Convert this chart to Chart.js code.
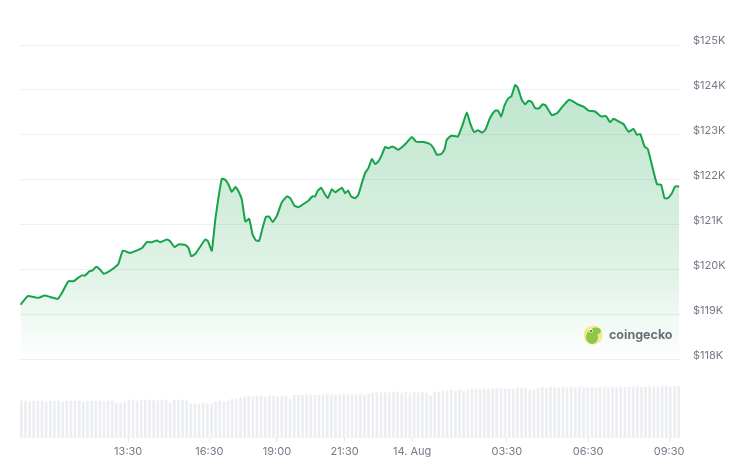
<!DOCTYPE html>
<html>
<head>
<meta charset="utf-8">
<script src="https://cdn.jsdelivr.net/npm/chart.js@4"></script>
<style>
  html, body { margin: 0; padding: 0; background: #fff; }
  #wrap { width: 740px; height: 468px; }
</style>
</head>
<body>
<div id="wrap"><canvas id="myChart"></canvas></div>
<script>
// hours since 00:00, 13 Aug (24 = 14 Aug 00:00)
const times = [9.52, 9.79, 10.00, 10.18, 10.41, 10.62, 10.90, 11.05, 11.29, 11.48,
  11.66, 11.79, 11.91, 12.06, 12.18, 12.31, 12.43, 12.59, 12.71, 12.96,
  13.14, 13.30, 13.57, 13.76, 14.01, 14.19, 14.38, 14.56, 14.68, 14.93,
  15.05, 15.21, 15.36, 15.61, 15.73, 15.83, 15.98, 16.13, 16.35, 16.45,
  16.59, 16.72, 16.96, 17.09, 17.21, 17.33, 17.46, 17.58, 17.70, 17.83,
  17.97, 18.10, 18.22, 18.34, 18.47, 18.59, 18.71, 18.84, 19.00, 19.18,
  19.37, 19.49, 19.65, 19.80, 19.98, 20.17, 20.31, 20.41, 20.51, 20.64,
  20.76, 20.88, 21.03, 21.15, 21.40, 21.52, 21.63, 21.74, 21.89, 22.01,
  22.14, 22.26, 22.38, 22.51, 22.63, 22.75, 22.88, 23.00, 23.12, 23.27,
  23.49, 23.74, 23.99, 24.14, 24.42, 24.67, 24.79, 24.91, 25.07, 25.19,
  25.28, 25.44, 25.59, 25.69, 25.86, 26.02, 26.14, 26.29, 26.43, 26.58,
  26.70, 26.88, 27.07, 27.17, 27.29, 27.41, 27.56, 27.66, 27.81, 27.91,
  28.05, 28.18, 28.30, 28.42, 28.55, 28.69, 28.82, 28.94, 29.16, 29.35,
  29.53, 29.66, 29.80, 29.96, 30.15, 30.33, 30.52, 30.76, 30.99, 31.16,
  31.32, 31.44, 31.63, 31.81, 32.00, 32.18, 32.31, 32.43, 32.59, 32.71,
  32.86, 33.05, 33.20, 33.33, 33.45, 33.60, 33.72, 33.87];

// price in $K
const prices = [119.22, 119.41, 119.39, 119.37, 119.42, 119.39, 119.35, 119.48, 119.74, 119.74,
  119.82, 119.87, 119.87, 119.96, 119.98, 120.06, 120.02, 119.91, 119.93, 120.03,
  120.13, 120.42, 120.37, 120.41, 120.48, 120.61, 120.61, 120.65, 120.61, 120.67,
  120.63, 120.50, 120.56, 120.55, 120.48, 120.30, 120.35, 120.48, 120.67, 120.63,
  120.42, 121.11, 122.02, 122.00, 121.89, 121.73, 121.84, 121.74, 121.56, 121.07,
  121.13, 120.78, 120.65, 120.64, 120.93, 121.17, 121.18, 121.06, 121.20, 121.50,
  121.63, 121.59, 121.42, 121.39, 121.46, 121.54, 121.63, 121.63, 121.76, 121.82,
  121.69, 121.59, 121.79, 121.72, 121.82, 121.70, 121.76, 121.63, 121.59, 121.67,
  121.93, 122.15, 122.26, 122.46, 122.35, 122.41, 122.56, 122.73, 122.70, 122.74,
  122.67, 122.79, 122.95, 122.85, 122.84, 122.79, 122.70, 122.56, 122.57, 122.67,
  122.89, 122.98, 122.97, 122.96, 123.22, 123.50, 123.26, 123.06, 123.10, 123.05,
  123.11, 123.38, 123.54, 123.54, 123.41, 123.65, 123.82, 123.85, 124.11, 124.04,
  123.78, 123.68, 123.76, 123.73, 123.59, 123.59, 123.68, 123.65, 123.44, 123.48,
  123.61, 123.70, 123.78, 123.74, 123.67, 123.63, 123.54, 123.52, 123.41, 123.42,
  123.28, 123.36, 123.30, 123.24, 123.07, 123.13, 123.00, 123.02, 122.74, 122.68,
  122.33, 121.90, 121.89, 121.59, 121.59, 121.70, 121.85, 121.85];

// trading volume (relative), one bar per interval
const volumes = [37,37,36,37,37,37,36,37,37,37,36,37,37,37,37,36,37,37,37,37,36,37,37,
  35,35,36,
  38,38,37,38,38,38,38,37,38,38,
  35,
  38,38,38,37,
  34,34,34,35,34,34,
  36,37,36,37,
  39,39,40,
  41,42,41,42,42,41,42,42,41,42,42,
  39,
  43,43,43,44,43,43,43,43,44,43,43,43,44,43,43,43,44,43,44,
  45,46,45,46,45,46,46,45,46,45,46,45,46,45,
  42,
  46,46,47,
  47,48,47,48,47,48,
  49,49,48,49,49,49,50,49,49,49,49,
  50,50,50,
  48,48,
  50,51,50,51,51,50,51,50,51,50,51,51,50,51,50,51,51,50,51,50,51,51,
  51,51,52,51,51,52,51,51,
  52,52,51,52,52];
const volStart = 9.55, volEnd = 33.85;

const tickHours = [13.5, 16.5, 19, 21.5, 24, 27.5, 30.5, 33.5];
const tickLabels = ['13:30', '16:30', '19:00', '21:30', '14. Aug', '03:30', '06:30', '09:30'];
const priceTicks = [118, 119, 120, 121, 122, 123, 124, 125];

const linePoints = times.map((t, i) => ({ x: t, y: prices[i] }));
const volStep = (volEnd - volStart) / (volumes.length - 1);
const volPoints = volumes.map((v, i) => ({ x: volStart + i * volStep, y: v }));

function areaFill(context) {
    const chart = context.chart;
    const area = chart.chartArea;
    if (!area) return 'rgba(22,163,74,0.15)';
    const yEnd = chart.scales.y.getPixelForValue(118);
    const g = chart.ctx.createLinearGradient(0, area.top, 0, yEnd);
    g.addColorStop(0, 'rgba(22,163,74,0.30)');
    g.addColorStop(0.55, 'rgba(22,163,74,0.18)');
    g.addColorStop(0.75, 'rgba(22,163,74,0.12)');
    g.addColorStop(0.9, 'rgba(22,163,74,0.05)');
    g.addColorStop(1, 'rgba(22,163,74,0)');
    return g;
}

// little coingecko watermark
const geckoMark = {
    id: 'geckoMark',
    afterDatasetsDraw(chart) {
        const c = chart.ctx;
        c.save();
        c.fillStyle = '#f6e88f';
        c.beginPath(); c.arc(593, 335, 9.5, 0, Math.PI * 2); c.fill();
        c.fillStyle = '#8cc84b';
        c.beginPath(); c.ellipse(592, 337, 6, 7, 0, 0, Math.PI * 2); c.fill();
        c.beginPath(); c.ellipse(596, 331, 5, 3.5, 0, 0, Math.PI * 2); c.fill();
        c.fillStyle = '#ffffff';
        c.beginPath(); c.arc(591, 331, 1.8, 0, Math.PI * 2); c.fill();
        c.fillStyle = '#3a3a3a';
        c.beginPath(); c.arc(591, 331, 0.9, 0, Math.PI * 2); c.fill();
        c.fillStyle = '#6a6e75';
        c.font = 'bold 12.5px Inter';
        c.textBaseline = 'middle';
        c.fillText('coingecko', 609, 335);
        c.restore();
    }
};

const config = {
    data: {
        datasets: [{
            type: 'line',
            data: linePoints,
            yAxisID: 'y',
            borderColor: '#16a34a',
            borderWidth: 2,
            pointRadius: 0,
            tension: 0.15,
            borderJoinStyle: 'round',
            fill: 'start',
            backgroundColor: areaFill,
            order: 0
        }, {
            type: 'bar',
            data: volPoints,
            yAxisID: 'yv',
            backgroundColor: '#eceef1',
            barThickness: 2,
            order: 1
        }]
    },
    options: {
        responsive: true,
        maintainAspectRatio: false,
        animation: false,
        devicePixelRatio: 1,
        layout: { padding: { left: 20, top: 45, right: 0, bottom: 0 } },
        plugins: { legend: { display: false }, tooltip: { enabled: false } },
        scales: {
            x: {
                type: 'linear',
                min: 9.5,
                max: 33.9,
                offset: false,
                afterBuildTicks: s => { s.ticks = tickHours.map(v => ({ value: v })); },
                afterFit: s => { s.height = 30; },
                ticks: {
                    autoSkip: false,
                    maxRotation: 0,
                    padding: 3,
                    color: '#737986',
                    font: { family: 'Inter', size: 11 },
                    callback: (v, i) => tickLabels[i]
                },
                grid: { offset: false, drawOnChartArea: false, drawTicks: true, tickLength: 4, color: '#e6e8eb' },
                border: { display: false }
            },
            y: {
                position: 'right',
                min: 116.25,
                max: 125,
                afterBuildTicks: s => { s.ticks = priceTicks.map(v => ({ value: v })); },
                afterFit: s => { s.width = 60; },
                ticks: {
                    padding: 13,
                    labelOffset: -4,
                    color: '#737986',
                    font: { family: 'Inter', size: 11 },
                    callback: v => '$' + v + 'K'
                },
                grid: { color: '#eef0f3', drawTicks: false },
                border: { display: false }
            },
            yv: {
                display: false,
                min: 0,
                max: 393
            }
        }
    },
    plugins: [geckoMark]
};

new Chart(document.getElementById('myChart'), config);
</script>
</body>
</html>
